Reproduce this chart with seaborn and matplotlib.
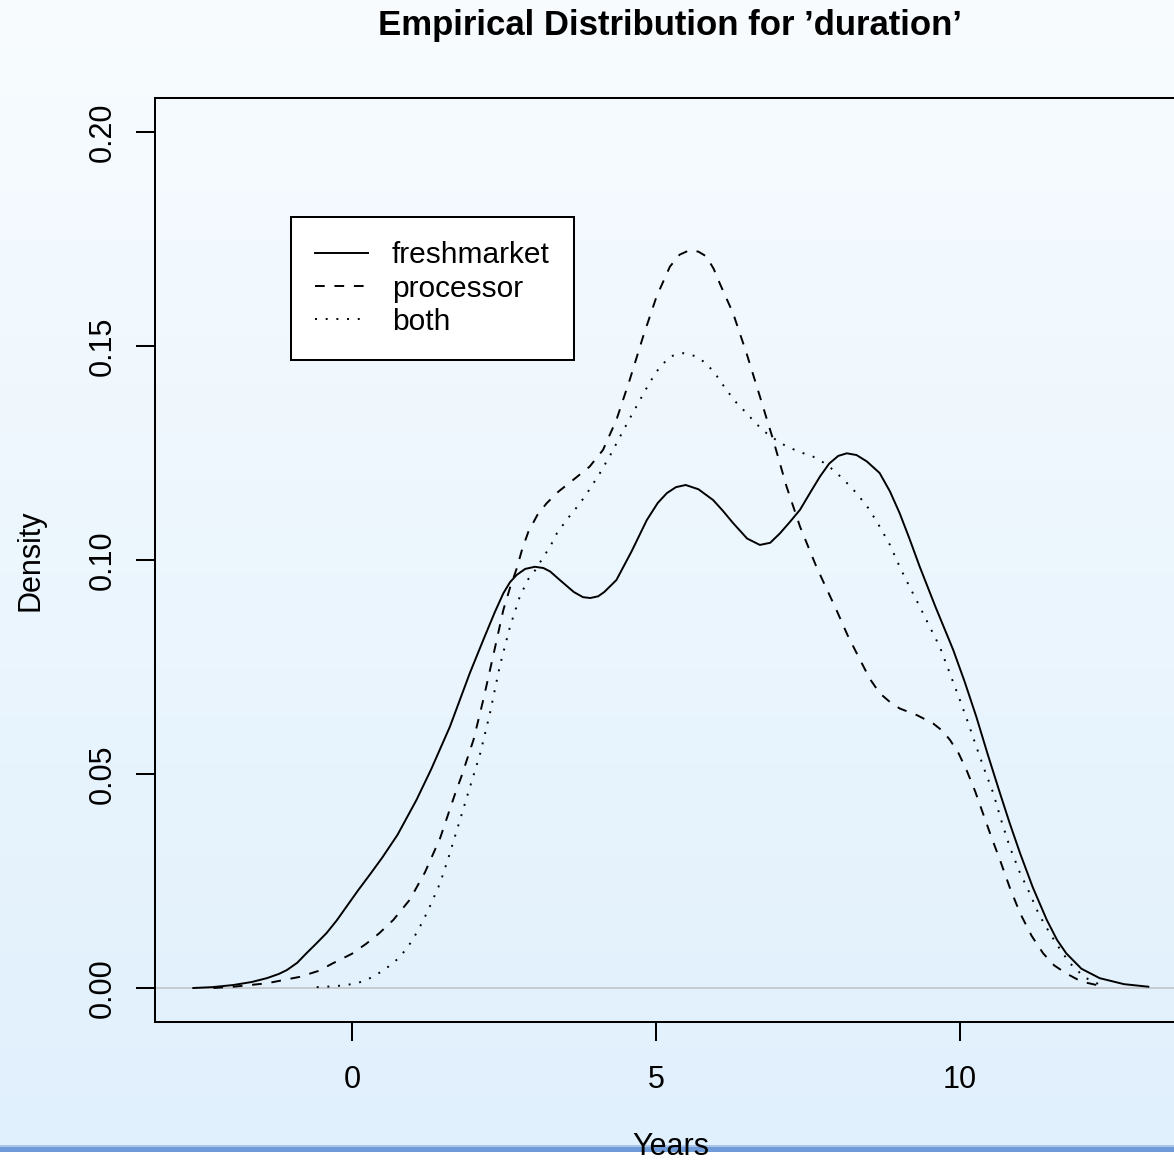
import numpy as np
import pandas as pd
import matplotlib
matplotlib.use("Agg")
import matplotlib.pyplot as plt
import seaborn as sns
from matplotlib.patches import Rectangle

# ---------------- data ----------------
groups = ["freshmarket", "processor", "both"]

fresh_x = [-2.61, -2.30, -1.95, -1.65, -1.40, -1.20, -1.07, -0.90, -0.75, -0.60,
           -0.42, -0.25, -0.09, 0.10, 0.30, 0.50, 0.75, 1.06, 1.30, 1.61,
           1.94, 2.16, 2.35, 2.49, 2.60, 2.71, 2.85, 3.01, 3.15, 3.26,
           3.42, 3.65, 3.80, 3.92, 4.05, 4.15, 4.35, 4.60, 4.85, 5.03,
           5.18, 5.33, 5.49, 5.70, 5.94, 6.10, 6.27, 6.50, 6.71, 6.88,
           7.04, 7.20, 7.37, 7.55, 7.70, 7.85, 8.00, 8.14, 8.30, 8.47,
           8.68, 8.85, 9.01, 9.17, 9.34, 9.60, 9.89, 10.08, 10.27, 10.46,
           10.66, 10.82, 10.99, 11.20, 11.43, 11.60, 11.75, 12.00, 12.30, 12.70,
           13.10]
fresh_y = [0.0000, 0.0002, 0.0007, 0.0014, 0.0023, 0.0033, 0.0042, 0.0059, 0.0081, 0.0102,
           0.0128, 0.0158, 0.0190, 0.0228, 0.0266, 0.0305, 0.0358, 0.0439, 0.0510, 0.0610,
           0.0736, 0.0813, 0.0878, 0.0922, 0.0948, 0.0965, 0.0979, 0.0984, 0.0981, 0.0973,
           0.0953, 0.0925, 0.0913, 0.0911, 0.0915, 0.0925, 0.0953, 0.1020, 0.1093, 0.1133,
           0.1156, 0.1170, 0.1175, 0.1165, 0.1140, 0.1115, 0.1086, 0.1050, 0.1035, 0.1040,
           0.1062, 0.1088, 0.1117, 0.1160, 0.1195, 0.1225, 0.1243, 0.1249, 0.1245, 0.1230,
           0.1203, 0.1160, 0.1109, 0.1050, 0.0984, 0.0890, 0.0790, 0.0715, 0.0634, 0.0545,
           0.0455, 0.0385, 0.0315, 0.0235, 0.0159, 0.0112, 0.0081, 0.0045, 0.0023, 0.0009,
           0.0003]

proc_x = [-2.28, -1.95, -1.40, -0.86, -0.55, -0.31, 0.00, 0.24, 0.45, 0.68,
          0.95, 1.20, 1.45, 1.69, 1.80, 2.00, 2.16, 2.32, 2.49, 2.60,
          2.71, 2.80, 2.90, 3.05, 3.20, 3.40, 3.64, 3.91, 4.13, 4.35,
          4.57, 4.79, 5.01, 5.23, 5.39, 5.56, 5.70, 5.83, 5.95, 6.05,
          6.27, 6.49, 6.71, 6.93, 7.15, 7.37, 7.64, 7.97, 8.15, 8.36,
          8.52, 8.68, 8.85, 9.01, 9.30, 9.56, 9.72, 9.84, 9.98, 10.11,
          10.25, 10.38, 10.52, 10.66, 10.82, 10.99, 11.18, 11.37, 11.55, 11.75,
          12.00, 12.25]
proc_y = [0.0000, 0.0003, 0.0011, 0.0026, 0.0040, 0.0058, 0.0080, 0.0104, 0.0128, 0.0159,
          0.0206, 0.0270, 0.0350, 0.0451, 0.0494, 0.0580, 0.0673, 0.0774, 0.0883, 0.0935,
          0.0980, 0.1025, 0.1065, 0.1105, 0.1132, 0.1160, 0.1187, 0.1218, 0.1257, 0.1327,
          0.1421, 0.1522, 0.1615, 0.1685, 0.1713, 0.1724, 0.1720, 0.1709, 0.1680, 0.1646,
          0.1576, 0.1483, 0.1382, 0.1280, 0.1171, 0.1078, 0.0984, 0.0883, 0.0825, 0.0766,
          0.0722, 0.0689, 0.0668, 0.0653, 0.0637, 0.0618, 0.0600, 0.0579, 0.0548, 0.0509,
          0.0460, 0.0408, 0.0352, 0.0299, 0.0235, 0.0175, 0.0122, 0.0081, 0.0053, 0.0034,
          0.0015, 0.0007]

both_x = [-0.58, -0.30, -0.09, 0.10, 0.24, 0.38, 0.52, 0.66, 0.79, 0.93,
          1.06, 1.17, 1.28, 1.45, 1.60, 1.75, 1.91, 2.11, 2.27, 2.43,
          2.60, 2.76, 2.90, 3.02, 3.14, 3.26, 3.37, 3.55, 3.75, 3.90,
          4.08, 4.25, 4.41, 4.58, 4.74, 4.90, 5.07, 5.25, 5.45, 5.65,
          5.83, 6.00, 6.16, 6.32, 6.49, 6.65, 6.82, 7.00, 7.15, 7.37,
          7.59, 7.75, 7.92, 8.10, 8.30, 8.50, 8.68, 8.85, 9.01, 9.17,
          9.34, 9.50, 9.67, 9.83, 10.00, 10.14, 10.27, 10.41, 10.55, 10.68,
          10.82, 10.98, 11.15, 11.30, 11.48, 11.65, 11.81, 12.05, 12.30]
both_y = [0.0002, 0.0004, 0.0007, 0.0012, 0.0019, 0.0029, 0.0042, 0.0056, 0.0073, 0.0098,
          0.0128, 0.0157, 0.0190, 0.0245, 0.0310, 0.0380, 0.0455, 0.0548, 0.0642, 0.0751,
          0.0844, 0.0914, 0.0955, 0.0977, 0.1005, 0.1031, 0.1062, 0.1097, 0.1132, 0.1163,
          0.1203, 0.1245, 0.1288, 0.1333, 0.1374, 0.1415, 0.1452, 0.1476, 0.1483, 0.1476,
          0.1459, 0.1430, 0.1397, 0.1368, 0.1343, 0.1318, 0.1296, 0.1278, 0.1265, 0.1252,
          0.1241, 0.1228, 0.1210, 0.1186, 0.1156, 0.1120, 0.1078, 0.1035, 0.0984, 0.0938,
          0.0891, 0.0845, 0.0797, 0.0737, 0.0673, 0.0618, 0.0564, 0.0508, 0.0455, 0.0392,
          0.0330, 0.0272, 0.0221, 0.0172, 0.0128, 0.0090, 0.0058, 0.0025, 0.0008]

x_ticks = [0, 5, 10]
y_ticks = [0.00, 0.05, 0.10, 0.15, 0.20]

title = "Empirical Distribution for \u2019duration\u2019"
xlabel = "Years"
ylabel = "Density"

# ---------------- build frame ----------------
df = pd.concat([
    pd.DataFrame({"Years": fresh_x, "Density": fresh_y, "group": groups[0]}),
    pd.DataFrame({"Years": proc_x, "Density": proc_y, "group": groups[1]}),
    pd.DataFrame({"Years": both_x, "Density": both_y, "group": groups[2]}),
], ignore_index=True)

plt.rcParams["font.family"] = ["Liberation Sans", "DejaVu Sans"]

W, H = 1174, 1162
fig = plt.figure(figsize=(W / 100, H / 100), dpi=100)
fig.patch.set_facecolor("white")

# background gradient + blue rule
bg = fig.add_axes([0, 0, 1, 1], zorder=-10)
bg.set_xlim(0, W)
bg.set_ylim(H, 0)
bg.axis("off")
top = np.array([248, 252, 255]) / 255
bot = np.array([224, 240, 252]) / 255
t = np.linspace(0, 1, 256)[:, None]
grad = (top[None, :] * (1 - t) + bot[None, :] * t)[:, None, :]
bg.imshow(grad, extent=[0, W, 1146, 0], aspect="auto", interpolation="bilinear")
bg.add_patch(Rectangle((0, 1145), W, 2, color="#a9c6ea", lw=0))
bg.add_patch(Rectangle((0, 1147), W, 4.5, color="#6f9bd8", lw=0))

# main axes (right edge falls just outside the canvas, as in the reference)
L, R, T, B = 155, 1186, 98, 1022
ax = fig.add_axes([L / W, (H - B) / H, (R - L) / W, (B - T) / H])
ax.set_facecolor("none")

ax.axhline(0, color="#c4c8cc", lw=1.3, zorder=1)

sns.lineplot(data=df, x="Years", y="Density", style="group",
             dashes={"freshmarket": "", "processor": (5, 5), "both": (1, 4.5)},
             color="black", linewidth=1.4, sort=False, estimator=None,
             ax=ax, zorder=3)
for ln in ax.get_lines():
    ln.set_solid_joinstyle("round")
    ln.set_dash_joinstyle("round")

ax.set_xlim(-3.24, 13.72)
ax.set_ylim(-0.00794, 0.2079)
ax.set_xticks(x_ticks)
ax.set_xticklabels([str(v) for v in x_ticks])
ax.set_yticks(y_ticks)
ax.set_yticklabels([f"{v:.2f}" for v in y_ticks])

for s in ["left", "top", "bottom"]:
    ax.spines[s].set_linewidth(1.45)
    ax.spines[s].set_color("black")
ax.spines["right"].set_visible(False)

ax.tick_params(axis="both", direction="out", length=13.7, width=1.45,
               labelsize=22, colors="black")
ax.tick_params(axis="x", pad=17)
ax.tick_params(axis="y", pad=13)
for lab in ax.get_yticklabels():
    lab.set_rotation(90)
    lab.set_va("center")

ax.set_xlabel(xlabel, fontsize=22, va="center")
ax.xaxis.set_label_coords((671 - L) / (R - L), (B - 1147) / (B - T))
ax.set_ylabel(ylabel, fontsize=22, va="center")
ax.yaxis.set_label_coords((31 - L) / (R - L), (B - 560) / (B - T))

ax.set_title(title, fontsize=25, fontweight="bold", pad=45)

handles, labels = ax.get_legend_handles_labels()
leg = ax.legend(handles, labels, loc="upper left",
                bbox_to_anchor=((291 - L) / (R - L), (B - 217) / (B - T)),
                borderaxespad=0, fontsize=21.5, frameon=True, fancybox=False,
                handlelength=1.76, handletextpad=0.8, borderpad=0.82,
                labelspacing=0.17, title=None)
leg.get_frame().set_edgecolor("black")
leg.get_frame().set_linewidth(1.45)
leg.get_frame().set_facecolor("white")
leg.get_frame().set_alpha(1)

fig.savefig("out.png", dpi=100)
